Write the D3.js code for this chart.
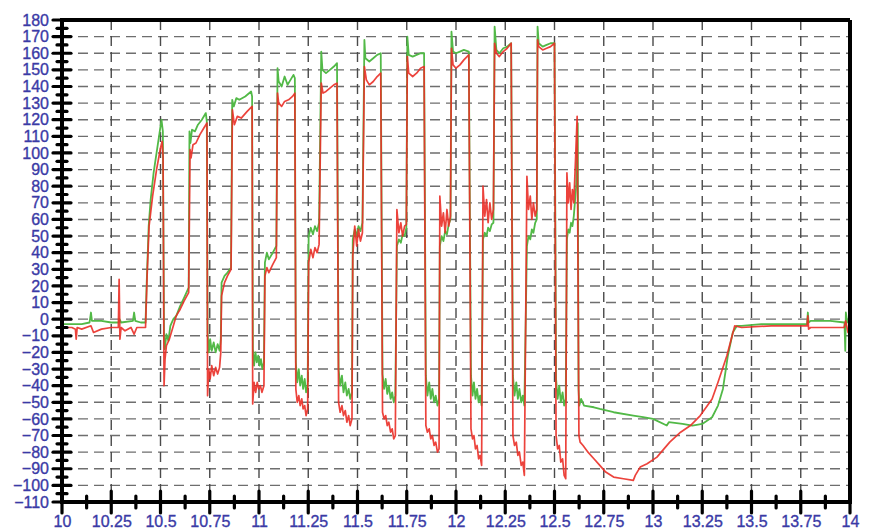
<!DOCTYPE html>
<html>
<head>
<meta charset="utf-8">
<script src="https://cdn.jsdelivr.net/npm/d3@7"></script>
<style>
  body { margin: 0; background: #fff; }
  svg { display: block; }
</style>
</head>
<body>
<svg id="drawing_region"></svg>
<script>
// tick values
const yMajorTicks = d3.range(-110, 181, 10);
const yMinorTicks = d3.range(-105, 180, 10);
const xMajorTicks = [10, 10.25, 10.5, 10.75, 11, 11.25, 11.5, 11.75, 12, 12.25, 12.5, 12.75, 13, 13.25, 13.5, 13.75, 14];
const xMinorTicks = [10.125, 10.375, 10.625, 10.875, 11.125, 11.375, 11.625, 11.875, 12.125, 12.375, 12.625, 12.875, 13.125, 13.375, 13.625, 13.875];
const xTickLabels = ["10", "10.25", "10.5", "10.75", "11", "11.25", "11.5", "11.75", "12", "12.25", "12.5", "12.75", "13", "13.25", "13.5", "13.75", "14"];

// green trace [x, y]
const greenTrace = [
  [10.000,-3],[10.05,-3],[10.10,-3],[10.14,-2],[10.147,4],[10.152,-1],[10.2,-1],[10.25,-2],[10.288,-2],[10.292,0],[10.3,-2],
  [10.36,-1],[10.366,4],[10.372,-1],[10.4,-2],[10.424,-2],
  [10.43,22],[10.44,56],[10.45,72],[10.465,88],[10.48,100],[10.495,112],[10.505,120],[10.512,113],
  [10.518,-11],[10.522,-18],[10.53,-9],[10.54,-13],[10.55,-4],[10.565,0],[10.58,2],[10.6,8],[10.62,13],[10.643,19],
  [10.647,113],[10.652,106],[10.66,114],[10.675,113],[10.69,117],[10.71,120],[10.73,124],[10.735,119],
  [10.739,-8],[10.745,-20],[10.752,-12],[10.76,-19],[10.77,-14],[10.78,-20],[10.79,-15],[10.8,-19],[10.806,-12],
  [10.81,22],[10.825,26],[10.84,28],[10.858,31],
  [10.864,132],[10.872,128],[10.885,133],[10.9,132],[10.93,134],[10.96,137],[10.965,134],
  [10.969,-18],[10.975,-28],[10.982,-20],[10.989,-26],[10.996,-22],[11.003,-28],[11.01,-24],[11.017,-30],[11.025,-26],
  [11.03,34],[11.04,40],[11.05,36],[11.07,40],[11.088,44],
  [11.094,151],[11.1,143],[11.115,140],[11.13,146],[11.145,141],[11.16,144],[11.175,147],[11.182,145],
  [11.187,-26],[11.194,-38],[11.202,-30],[11.209,-40],[11.217,-34],[11.224,-42],[11.232,-36],[11.239,-44],[11.247,-40],
  [11.252,50],[11.263,55],[11.274,51],[11.284,56],[11.295,53],[11.305,58],
  [11.316,161],[11.322,150],[11.34,148],[11.36,150],[11.38,152],[11.396,154],
  [11.404,-30],[11.412,-40],[11.421,-34],[11.429,-44],[11.438,-38],[11.446,-46],[11.455,-42],[11.463,-48],[11.472,-44],
  [11.476,48],[11.486,54],[11.496,50],[11.505,56],[11.515,53],[11.525,58],
  [11.535,168],[11.54,157],[11.56,155],[11.58,157],[11.6,159],[11.618,160],
  [11.627,-33],[11.635,-42],[11.643,-36],[11.651,-45],[11.659,-40],[11.668,-48],[11.676,-44],[11.684,-50],[11.692,-46],
  [11.7,44],[11.71,48],[11.72,46],[11.729,51],[11.739,50],[11.748,55],
  [11.753,170],[11.76,159],[11.78,158],[11.8,159],[11.82,160],[11.838,160],
  [11.847,-34],[11.855,-46],[11.864,-38],[11.872,-48],[11.88,-42],[11.889,-50],[11.897,-46],[11.906,-52],[11.914,-48],
  [11.918,44],[11.927,50],[11.936,47],[11.945,53],[11.954,51],[11.963,57],[11.972,60],
  [11.977,173],[11.985,161],[12.0,160],[12.02,161],[12.04,162],[12.065,161],
  [12.076,-34],[12.084,-46],[12.091,-38],[12.099,-48],[12.107,-42],[12.115,-50],[12.122,-46],[12.13,-52],
  [12.137,48],[12.146,52],[12.155,50],[12.163,55],[12.172,53],[12.181,57],[12.19,58],
  [12.196,176],[12.205,162],[12.22,160],[12.24,163],[12.26,164],[12.28,166],
  [12.289,-34],[12.297,-46],[12.306,-38],[12.314,-48],[12.322,-42],[12.331,-50],[12.339,-46],[12.347,-52],
  [12.36,44],[12.368,50],[12.377,48],[12.385,54],[12.393,52],[12.402,58],[12.41,60],
  [12.414,176],[12.42,166],[12.44,164],[12.46,165],[12.48,166],[12.5,166],
  [12.508,-36],[12.516,-48],[12.524,-40],[12.532,-50],[12.541,-44],[12.549,-52],[12.557,-48],
  [12.563,48],[12.57,54],[12.577,52],[12.584,58],[12.591,56],[12.598,62],[12.61,80],[12.618,118],
  [12.622,-42],[12.626,-52],[12.635,-48],[12.65,-52],[12.7,-53],[12.73,-54],[12.8,-56],[12.9,-58],[12.95,-59],
  [13.0,-60],[13.07,-64],[13.08,-62],[13.15,-63],[13.2,-64],[13.25,-63],[13.3,-59],[13.33,-52],[13.355,-42],
  [13.38,-22],[13.405,-8],[13.426,-4],[13.45,-4],[13.55,-3],[13.7,-3],[13.782,-3],[13.786,4],[13.79,-2],
  [13.8,-1],[13.9,-1],[13.972,-2],[13.976,-19],[13.979,4],[13.986,-2],[14.0,0]
];

// red trace [x, y]
const redTrace = [
  [10.000,-5],[10.05,-5],[10.068,-6],[10.072,-12],[10.077,-5],[10.1,-6],[10.147,-4],[10.16,-8],[10.2,-6],[10.25,-5],
  [10.286,-5],[10.29,24],[10.294,-12],[10.3,-5],[10.32,-7],[10.35,-5],[10.366,-9],[10.38,-5],[10.424,-5],
  [10.432,26],[10.442,56],[10.46,74],[10.48,90],[10.5,103],[10.508,107],[10.513,98],
  [10.518,-40],[10.523,-24],[10.53,-16],[10.545,-12],[10.56,-6],[10.58,2],[10.6,6],[10.62,11],[10.643,16],
  [10.65,102],[10.655,97],[10.665,105],[10.68,106],[10.7,111],[10.72,115],[10.736,118],
  [10.739,-46],[10.745,-30],[10.752,-36],[10.76,-28],[10.77,-34],[10.78,-29],[10.79,-33],[10.8,-29],[10.806,-20],
  [10.81,14],[10.825,22],[10.84,26],[10.858,30],
  [10.865,126],[10.875,117],[10.89,122],[10.91,121],[10.94,125],[10.965,128],
  [10.968,-51],[10.975,-38],[10.983,-44],[10.991,-38],[10.999,-42],[11.007,-40],[11.015,-44],[11.025,-40],
  [11.03,26],[11.04,31],[11.05,28],[11.07,33],[11.088,37],
  [11.094,136],[11.1,130],[11.115,128],[11.13,131],[11.15,132],[11.17,134],[11.182,136],
  [11.187,-42],[11.194,-50],[11.202,-46],[11.209,-52],[11.217,-48],[11.224,-54],[11.232,-52],[11.239,-58],[11.247,-54],
  [11.252,34],[11.263,42],[11.274,37],[11.284,43],[11.295,40],[11.305,45],
  [11.316,142],[11.325,136],[11.34,137],[11.36,139],[11.38,141],[11.396,142],
  [11.404,-50],[11.412,-56],[11.421,-52],[11.429,-58],[11.438,-55],[11.446,-62],[11.455,-58],[11.463,-64],[11.472,-60],
  [11.476,38],[11.486,56],[11.496,44],[11.505,54],[11.515,47],[11.525,52],
  [11.535,152],[11.545,144],[11.56,141],[11.58,143],[11.6,146],[11.618,148],
  [11.627,-56],[11.635,-60],[11.643,-58],[11.651,-64],[11.659,-62],[11.668,-68],[11.676,-66],[11.684,-72],[11.692,-70],
  [11.7,66],[11.71,52],[11.72,58],[11.729,50],[11.739,56],[11.748,57],
  [11.753,158],[11.76,148],[11.78,146],[11.8,148],[11.82,151],[11.838,152],
  [11.847,-64],[11.855,-68],[11.864,-66],[11.872,-72],[11.88,-70],[11.889,-76],[11.897,-74],[11.906,-80],[11.914,-78],
  [11.918,74],[11.927,56],[11.936,64],[11.945,52],[11.954,66],[11.963,56],[11.972,62],
  [11.977,163],[11.985,153],[12.0,151],[12.02,153],[12.04,156],[12.065,159],
  [12.076,-66],[12.084,-72],[12.091,-70],[12.099,-78],[12.107,-76],[12.115,-84],[12.122,-82],[12.13,-88],
  [12.137,80],[12.146,62],[12.155,72],[12.163,58],[12.172,70],[12.181,60],[12.19,66],
  [12.196,166],[12.205,160],[12.22,158],[12.24,161],[12.26,163],[12.28,166],
  [12.289,-70],[12.297,-76],[12.306,-74],[12.314,-82],[12.322,-80],[12.331,-88],[12.339,-86],[12.347,-94],
  [12.36,86],[12.368,66],[12.377,74],[12.385,60],[12.393,70],[12.402,62],[12.41,66],
  [12.414,168],[12.42,164],[12.44,162],[12.46,163],[12.48,164],[12.5,166],
  [12.508,-70],[12.516,-78],[12.524,-76],[12.532,-86],[12.541,-84],[12.549,-94],[12.557,-96],
  [12.563,88],[12.57,70],[12.577,82],[12.584,66],[12.591,78],[12.598,70],[12.608,100],[12.615,122],
  [12.624,-70],[12.63,-74],[12.645,-76],[12.67,-80],[12.7,-84],[12.73,-88],[12.76,-92],[12.8,-95],[12.85,-96],
  [12.9,-97],[12.91,-94],[12.935,-89],[12.97,-87],[13.02,-83],[13.085,-74],[13.14,-68],[13.19,-64],[13.24,-58],
  [13.3,-48],[13.33,-38],[13.375,-22],[13.415,-4],[13.45,-5],[13.6,-4],[13.782,-4],[13.786,2],[13.79,-6],
  [13.8,-5],[13.9,-5],[13.97,-5],[13.978,-1],[13.99,-8],[14.0,-4]
];

const config = {
  parent: '#drawing_region',
  width: 872,
  height: 529,
  margin: {top: 20, right: 22, bottom: 27, left: 62}
};

const svg = d3.select(config.parent)
  .attr('width', config.width)
  .attr('height', config.height);

const chart = svg.append('g')
  .attr('transform', `translate(${config.margin.left}, ${config.margin.top})`);

const inner_width = config.width - config.margin.left - config.margin.right;
const inner_height = config.height - config.margin.top - config.margin.bottom;

const xscale = d3.scaleLinear().domain([10, 14]).range([0, inner_width]);
const yscale = d3.scaleLinear().domain([-110, 180]).range([inner_height, 0]);

const labelColor = '#3a3aa6';
const fontFamily = '"Liberation Sans", Arial, sans-serif';

// dashed grid
chart.append('g').selectAll('line')
  .data(yMajorTicks.filter(v => v > -110 && v < 180))
  .join('line')
  .attr('x1', 0).attr('x2', inner_width)
  .attr('y1', d => yscale(d)).attr('y2', d => yscale(d))
  .attr('stroke', '#6e6e6e').attr('stroke-width', 1.4)
  .attr('stroke-dasharray', '10,6');

chart.append('g').selectAll('line')
  .data(xMajorTicks.filter(v => v > 10 && v < 14))
  .join('line')
  .attr('x1', d => xscale(d)).attr('x2', d => xscale(d))
  .attr('y1', 0).attr('y2', inner_height)
  .attr('stroke', '#4a4a4a').attr('stroke-width', 1.4)
  .attr('stroke-dasharray', '10,6');

// traces
const line = d3.line().x(d => xscale(d[0])).y(d => yscale(d[1]));

chart.append('path')
  .datum(greenTrace)
  .attr('d', line)
  .attr('fill', 'none')
  .attr('stroke', '#52b947')
  .attr('stroke-width', 1.8)
  .attr('stroke-linejoin', 'round');

chart.append('path')
  .datum(redTrace)
  .attr('d', line)
  .attr('fill', 'none')
  .attr('stroke', '#ea2f27')
  .attr('stroke-width', 1.7)
  .attr('stroke-opacity', 0.9)
  .attr('stroke-linejoin', 'round');

// frame: top and right
chart.append('line')
  .attr('x1', 0).attr('x2', inner_width).attr('y1', 0).attr('y2', 0)
  .attr('stroke', '#000').attr('stroke-width', 4);
chart.append('line')
  .attr('x1', inner_width).attr('x2', inner_width).attr('y1', 0).attr('y2', inner_height)
  .attr('stroke', '#000').attr('stroke-width', 4);

// y axis
const yaxis = d3.axisLeft(yscale).tickValues(yMajorTicks).tickSize(0).tickPadding(13);
const yaxis_group = chart.append('g').call(yaxis);
yaxis_group.select('.domain').remove();
yaxis_group.selectAll('text')
  .attr('fill', labelColor)
  .attr('stroke', labelColor)
  .attr('stroke-width', 0.35)
  .attr('font-family', fontFamily)
  .attr('font-size', '16px');

yaxis_group.append('line')
  .attr('x1', 0).attr('x2', 0).attr('y1', -2).attr('y2', inner_height + 2)
  .attr('stroke', '#000').attr('stroke-width', 4);

yaxis_group.selectAll('.major')
  .data(yMajorTicks)
  .join('line')
  .attr('class', 'major')
  .attr('x1', -9).attr('x2', 9)
  .attr('y1', d => yscale(d)).attr('y2', d => yscale(d))
  .attr('stroke', '#000').attr('stroke-width', 3.2).attr('stroke-linecap', 'round');

yaxis_group.selectAll('.minor')
  .data(yMinorTicks)
  .join('line')
  .attr('class', 'minor')
  .attr('x1', -5).attr('x2', 5)
  .attr('y1', d => yscale(d)).attr('y2', d => yscale(d))
  .attr('stroke', '#000').attr('stroke-width', 3.2).attr('stroke-linecap', 'round');

// x axis
const xaxis = d3.axisBottom(xscale)
  .tickValues(xMajorTicks)
  .tickFormat((d, i) => xTickLabels[i])
  .tickSize(0).tickPadding(14);
const xaxis_group = chart.append('g')
  .attr('transform', `translate(0, ${inner_height})`)
  .call(xaxis);
xaxis_group.select('.domain').remove();
xaxis_group.selectAll('text')
  .attr('fill', labelColor)
  .attr('stroke', labelColor)
  .attr('stroke-width', 0.35)
  .attr('font-family', fontFamily)
  .attr('font-size', '16px');

xaxis_group.append('line')
  .attr('x1', -2).attr('x2', inner_width + 2).attr('y1', 0).attr('y2', 0)
  .attr('stroke', '#000').attr('stroke-width', 4);

xaxis_group.selectAll('.major')
  .data(xMajorTicks)
  .join('line')
  .attr('class', 'major')
  .attr('x1', d => xscale(d)).attr('x2', d => xscale(d))
  .attr('y1', -11).attr('y2', 11)
  .attr('stroke', '#000').attr('stroke-width', 3.2).attr('stroke-linecap', 'round');

xaxis_group.selectAll('.minor')
  .data(xMinorTicks)
  .join('line')
  .attr('class', 'minor')
  .attr('x1', d => xscale(d)).attr('x2', d => xscale(d))
  .attr('y1', -6).attr('y2', 6)
  .attr('stroke', '#000').attr('stroke-width', 3.2).attr('stroke-linecap', 'round');
</script>
</body>
</html>
